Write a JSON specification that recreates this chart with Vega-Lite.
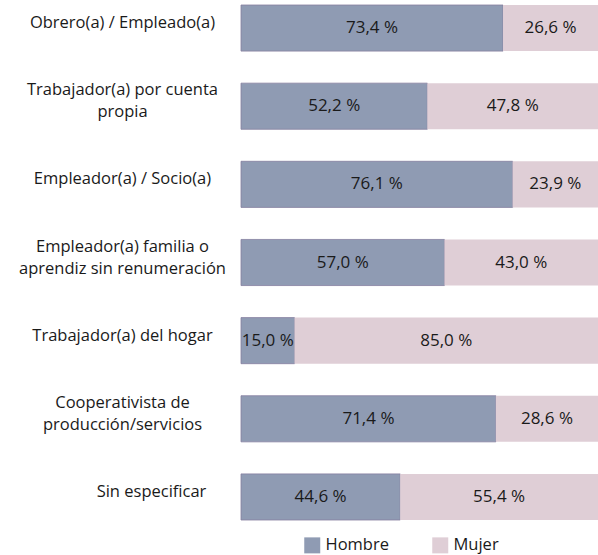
{
  "$schema": "https://vega.github.io/schema/vega-lite/v6.json",
  "width": 357,
  "height": 515,
  "autosize": {"type": "none"},
  "padding": {"left": 241, "top": 5, "right": 0, "bottom": 35},
  "background": "white",
  "config": {
    "view": {"stroke": null},
    "font": "Open Sans"
  },
  "data": {
    "values": [
      {"categoria": "Obrero(a) / Empleado(a)", "orden": 1, "sexo": "Hombre", "pct": 73.4, "etiqueta": "73,4 %"},
      {"categoria": "Obrero(a) / Empleado(a)", "orden": 1, "sexo": "Mujer", "pct": 26.6, "etiqueta": "26,6 %"},
      {"categoria": "Trabajador(a) por cuenta\npropia", "orden": 2, "sexo": "Hombre", "pct": 52.2, "etiqueta": "52,2 %"},
      {"categoria": "Trabajador(a) por cuenta\npropia", "orden": 2, "sexo": "Mujer", "pct": 47.8, "etiqueta": "47,8 %"},
      {"categoria": "Empleador(a) / Socio(a)", "orden": 3, "sexo": "Hombre", "pct": 76.1, "etiqueta": "76,1 %"},
      {"categoria": "Empleador(a) / Socio(a)", "orden": 3, "sexo": "Mujer", "pct": 23.9, "etiqueta": "23,9 %"},
      {"categoria": "Empleador(a) familia o\naprendiz sin renumeración", "orden": 4, "sexo": "Hombre", "pct": 57.0, "etiqueta": "57,0 %"},
      {"categoria": "Empleador(a) familia o\naprendiz sin renumeración", "orden": 4, "sexo": "Mujer", "pct": 43.0, "etiqueta": "43,0 %"},
      {"categoria": "Trabajador(a) del hogar", "orden": 5, "sexo": "Hombre", "pct": 15.0, "etiqueta": "15,0 %"},
      {"categoria": "Trabajador(a) del hogar", "orden": 5, "sexo": "Mujer", "pct": 85.0, "etiqueta": "85,0 %"},
      {"categoria": "Cooperativista de\nproducción/servicios", "orden": 6, "sexo": "Hombre", "pct": 71.4, "etiqueta": "71,4 %"},
      {"categoria": "Cooperativista de\nproducción/servicios", "orden": 6, "sexo": "Mujer", "pct": 28.6, "etiqueta": "28,6 %"},
      {"categoria": "Sin especificar", "orden": 7, "sexo": "Hombre", "pct": 44.6, "etiqueta": "44,6 %"},
      {"categoria": "Sin especificar", "orden": 7, "sexo": "Mujer", "pct": 55.4, "etiqueta": "55,4 %"}
    ]
  },
  "transform": [
    {"stack": "pct", "groupby": ["categoria"], "sort": [{"field": "sexo", "order": "ascending"}], "as": ["inicio", "fin"]}
  ],
  "encoding": {
    "y": {
      "field": "categoria",
      "type": "nominal",
      "sort": {"field": "orden"},
      "scale": {"paddingInner": 0.41, "paddingOuter": 0},
      "axis": {
        "title": null,
        "domain": false,
        "ticks": false,
        "labelAlign": "center",
        "labelPadding": {"condition": {"test": "datum.value == 'Sin especificar'", "value": 90}, "value": 119},
        "labelOffset": {"condition": {"test": "indexof(datum.value, '\\n') >= 0", "value": -16}, "value": -5},
        "labelFont": "Open Sans",
        "labelFontSize": 16.5,
        "labelColor": "#1a1a1a",
        "labelLineHeight": 22,
        "labelLimit": 300,
        "labelExpr": "split(datum.value, '\\n')"
      }
    }
  },
  "layer": [
    {
      "mark": {"type": "bar", "strokeWidth": 0.8},
      "encoding": {
        "x": {
          "field": "inicio",
          "type": "quantitative",
          "scale": {"domain": [0, 100], "nice": false},
          "axis": null
        },
        "x2": {"field": "fin"},
        "stroke": {
          "condition": {"test": "datum.sexo == 'Hombre'", "value": "#857f9f"},
          "value": null
        },
        "color": {
          "field": "sexo",
          "type": "nominal",
          "scale": {"domain": ["Hombre", "Mujer"], "range": ["#8f9bb3", "#dfced6"]},
          "legend": {
            "title": null,
            "orient": "none",
            "direction": "horizontal",
            "legendX": 63,
            "legendY": 532,
            "symbolType": "square",
            "symbolSize": 256,
            "symbolStrokeWidth": 0,
            "labelFont": "Open Sans",
            "labelFontSize": 16.5,
            "labelColor": "#1a1a1a",
            "labelOffset": 5,
            "columnPadding": 43
          }
        }
      }
    },
    {
      "transform": [
        {"fold": ["inicio", "fin"], "as": ["extremo", "posicion"]}
      ],
      "mark": {"type": "text", "font": "Open Sans", "fontSize": 17, "color": "#1a1a1a"},
      "encoding": {
        "x": {
          "aggregate": "mean",
          "field": "posicion",
          "type": "quantitative",
          "scale": {"domain": [0, 100], "nice": false},
          "axis": null
        },
        "detail": {"field": "sexo"},
        "text": {"field": "etiqueta"}
      }
    }
  ]
}
